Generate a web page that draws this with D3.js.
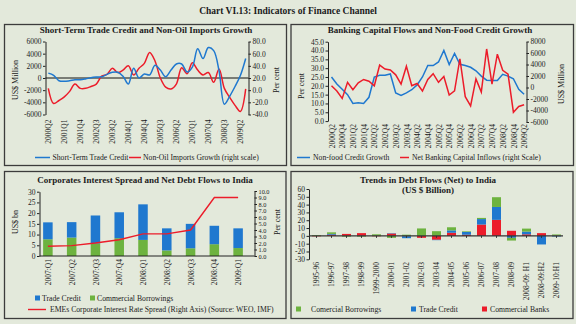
<!DOCTYPE html>
<html>
<head>
<meta charset="utf-8">
<script src="https://cdn.jsdelivr.net/npm/d3@7"></script>
<style>
  html, body { margin: 0; padding: 0; background: #e3e9db; }
  svg { display: block; }
  text { font-family: "Liberation Serif", "Times New Roman", serif; fill: #1b1b1b; }
</style>
</head>
<body>
<svg id="chart" width="576" height="324"></svg>
<script>
// ---------------- Data ----------------
// Top-left: short-term trade credit (US$ mn) and non-oil import growth (%)
const quartersA = ["2000Q2","2000Q3","2000Q4","2001Q1","2001Q2","2001Q3","2001Q4","2002Q1","2002Q2","2002Q3","2002Q4",
  "2003Q1","2003Q2","2003Q3","2003Q4","2004Q1","2004Q2","2004Q3","2004Q4","2005Q1","2005Q2","2005Q3","2005Q4",
  "2006Q1","2006Q2","2006Q3","2006Q4","2007Q1","2007Q2","2007Q3","2007Q4","2008Q1","2008Q2","2008Q3","2008Q4",
  "2009Q1","2009Q2","2009Q3"];
const shortTermTradeCredit = [800,450,-450,-550,-450,-300,-300,-150,50,150,200,600,950,950,300,-1000,1600,0,650,500,
  2100,1300,200,1300,2300,2300,1000,1800,4800,3200,5000,4500,1200,-4300,-3000,-1400,400,3200];
const nonOilImportGrowth = [3,-22,-17,-11,-2,10,3,3,6,10,23,26,36,29,33,40,25,36,44,62,48,20,5,2,10,37,27,45,33,25,
  29,13,35,3,-12,-25,-35,2];
const ticksA = ["2000Q2","2001Q1","2001Q4","2002Q3","2003Q2","2004Q1","2004Q4","2005Q3","2006Q2","2007Q1","2007Q4","2008Q3","2009Q2"];
const leftTicksA = [6000,4000,2000,0,-2000,-4000,-6000];
const rightTicksA = [80,60,40,20,0,-20,-40];

// Top-right: non-food credit growth (%) and net banking capital inflows (US$ mn)
const quartersB = quartersA.slice(0, 37);
const nonFoodCreditGrowth = [25,21,18,15,10,10.4,10,13.5,25,26,26,26.7,16,14.6,16,17.8,20.5,25,31.5,31.5,33.5,40,32,
  38.3,32.2,31.5,30.5,28.5,25.5,23.2,23,23,26.5,25.5,24,18,15.2];
const netBankingInflows = [300,-600,-1900,900,-400,800,1400,1100,300,3900,3200,3050,2200,600,3700,300,700,-600,1400,
  2400,900,1900,-1300,-600,5000,-1600,-3200,1500,-800,6700,600,5800,3000,2300,-4300,-3300,-3000];
const ticksB = ["2000Q2","2000Q4","2001Q2","2001Q4","2002Q2","2002Q4","2003Q2","2003Q4","2004Q2","2004Q4","2005Q2",
  "2005Q4","2006Q2","2006Q4","2007Q2","2007Q4","2008Q2","2008Q4","2009Q2"];
const leftTicksB = [45,40,35,30,25,20,15,10,5,0];
const rightTicksB = [8000,6000,4000,2000,0,-2000,-4000,-6000];

// Bottom-left: net debt flows (US$ bn) and EME corporate spread (%)
const quartersC = ["2007:Q1","2007:Q2","2007:Q3","2007:Q4","2008:Q1","2008:Q2","2008:Q3","2008:Q4","2009:Q1"];
const tradeCreditC = [7.9,7.2,13.1,12.1,16.6,10.3,11.4,8.6,9.2];
const commercialBorrowingsC = [7.8,8.6,5.8,8.3,7.5,2.6,3.6,5.5,3.7];
const corporateSpread = [1.5,1.6,2.0,2.5,3.4,3.4,4.0,9.0,9.0];
const leftTicksC = [30,25,20,15,10,5,0];
const rightTicksC = [10,9,8,7,6,5,4,3,2,1,0];

// Bottom-right: debt flows (net) to India, US$ bn
const yearsD = ["1995-96","1996-97","1997-98","1998-99","1999-2000","2000-01","2001-02","2002-03","2003-04","2004-05",
  "2005-06","2006-07","2007-08","2008-09","2008-09: H1","2008-09:H2","2009-10:H1"];
const commercialBanksD = [-0.6,1.5,2.5,3.5,-0.5,3.0,-0.5,-2.5,-5.0,4.0,1.5,14.5,20.5,6.5,2.0,3.5,0.3];
const tradeCreditD = [0.1,1.0,0,-0.2,0,0.5,-2.5,0,-0.5,3.0,3.5,7.0,16.5,-2.5,3.5,-11.0,-0.8];
const commercialBorrowingsD = [1.0,2.0,-1.0,-0.8,2.0,-2.5,1.5,9.5,6.0,4.0,0.8,1.5,12.5,-3.5,3.8,0,1.5];
const leftTicksD = [60,50,40,30,20,10,0,-10,-20,-30];

// ---------------- Styles ----------------
const BLUE = "#1f78cf", RED = "#ec1c2a", GREEN = "#6db33f", AXIS = "#222";
const TICK_FS = 7.5, TITLE_FS = 9, LEG_FS = 7.7;

const svg = d3.select("#chart");

svg.append("text").attr("x", 288).attr("y", 14).attr("text-anchor", "middle")
  .attr("font-size", 9.5).attr("font-weight", "bold").text("Chart VI.13: Indicators of Finance Channel");

function frame(x0, y0, x1, y1) {
  svg.append("rect").attr("x", x0).attr("y", y0).attr("width", x1 - x0).attr("height", y1 - y0)
    .attr("fill", "none").attr("stroke", "#3c3c3c").attr("stroke-width", 1.3);
}
function title(x, y, txt) {
  svg.append("text").attr("x", x).attr("y", y).attr("text-anchor", "middle")
    .attr("font-size", TITLE_FS).attr("font-weight", "bold").text(txt);
}
function vLabel(x, y, txt) {
  svg.append("text").attr("transform", `translate(${x},${y}) rotate(-90)`).attr("text-anchor", "middle")
    .attr("dy", "0.35em").attr("font-size", 8).text(txt);
}
function styleAxis(g, fs) {
  g.select(".domain").attr("stroke", AXIS).attr("stroke-width", 1);
  g.selectAll(".tick line").attr("stroke", AXIS);
  g.selectAll("text").attr("font-size", fs || TICK_FS).attr("font-family", "Liberation Serif, serif").attr("fill", "#1b1b1b");
}
function yAxis(axisFn, scale, ticks, fmt, x, fs) {
  const g = svg.append("g").attr("transform", `translate(${x},0)`)
    .call(axisFn(scale).tickValues(ticks).tickFormat(fmt).tickSize(2.5).tickSizeOuter(0).tickPadding(1.5));
  styleAxis(g, fs);
  return g;
}
function rotatedXAxis(scale, ticks, yTop) {
  const g = svg.append("g").attr("transform", `translate(0,${yTop})`)
    .call(d3.axisBottom(scale).tickValues(ticks).tickSize(0).tickPadding(0));
  g.select(".domain").remove();
  styleAxis(g);
  g.selectAll("text").attr("transform", "rotate(-90)").attr("text-anchor", "end")
    .attr("x", 0).attr("y", 0).attr("dx", 0).attr("dy", "0.35em");
  return g;
}
const plain = d => String(d);
const oneDec = d => d.toFixed(1);

// ---------------- Panel A ----------------
frame(4.5, 24.5, 286.5, 165.5);
title(146, 33, "Short-Term Trade Credit and Non-Oil Imports Growth");
{
  const x = d3.scalePoint().domain(quartersA).range([48.3, 245.7]);
  const yL = d3.scaleLinear().domain([-6000, 6000]).range([114.5, 41.5]);
  const yR = d3.scaleLinear().domain([-40, 80]).range([114.5, 41.5]);
  yAxis(d3.axisLeft, yL, leftTicksA, plain, 45.5);
  yAxis(d3.axisRight, yR, rightTicksA, oneDec, 248.5);
  svg.append("line").attr("x1", 45.5).attr("x2", 248.5).attr("y1", yL(0)).attr("y2", yL(0))
    .attr("stroke", "#111").attr("stroke-width", 1);
  rotatedXAxis(x, ticksA, 119.5);
  const lineL = d3.line().x((d, i) => x(quartersA[i])).y(d => yL(d)).curve(d3.curveCatmullRom);
  const lineR = d3.line().x((d, i) => x(quartersA[i])).y(d => yR(d)).curve(d3.curveCatmullRom);
  svg.append("path").attr("d", lineR(nonOilImportGrowth)).attr("fill", "none").attr("stroke", RED).attr("stroke-width", 1.5);
  svg.append("path").attr("d", lineL(shortTermTradeCredit)).attr("fill", "none").attr("stroke", BLUE).attr("stroke-width", 1.5);
  vLabel(15, 80, "US$ Million");
  vLabel(276, 80, "Per cent");
  // legend
  svg.append("line").attr("x1", 35).attr("x2", 50).attr("y1", 157.5).attr("y2", 157.5).attr("stroke", BLUE).attr("stroke-width", 1.5);
  svg.append("text").attr("x", 52.5).attr("y", 157.5).attr("dy", "0.35em").attr("font-size", LEG_FS).text("Short-Term Trade Credit");
  svg.append("line").attr("x1", 129).attr("x2", 141).attr("y1", 157.5).attr("y2", 157.5).attr("stroke", RED).attr("stroke-width", 1.5);
  svg.append("text").attr("x", 143).attr("y", 157.5).attr("dy", "0.35em").attr("font-size", LEG_FS).text("Non-Oil Imports Growth (right scale)");
}

// ---------------- Panel B ----------------
frame(291, 24.5, 573.5, 165.5);
title(430, 33, "Banking Capital Flows and Non-Food Credit Growth");
{
  const x = d3.scalePoint().domain(quartersB).range([331.5, 524.1]);
  const yL = d3.scaleLinear().domain([0, 45]).range([121.1, 41.7]);
  const yR = d3.scaleLinear().domain([-6000, 8000]).range([122, 41.5]);
  yAxis(d3.axisLeft, yL, leftTicksB, oneDec, 328);
  yAxis(d3.axisRight, yR, rightTicksB, plain, 526.5);
  rotatedXAxis(x, ticksB, 124);
  const lineL = d3.line().x((d, i) => x(quartersB[i])).y(d => yL(d));
  const lineR = d3.line().x((d, i) => x(quartersB[i])).y(d => yR(d));
  svg.append("path").attr("d", lineL(nonFoodCreditGrowth)).attr("fill", "none").attr("stroke", BLUE).attr("stroke-width", 1.5);
  svg.append("path").attr("d", lineR(netBankingInflows)).attr("fill", "none").attr("stroke", RED).attr("stroke-width", 1.5);
  vLabel(301, 86, "Per cent");
  vLabel(561, 84, "US$ Million");
  svg.append("line").attr("x1", 297).attr("x2", 310).attr("y1", 157.5).attr("y2", 157.5).attr("stroke", BLUE).attr("stroke-width", 1.5);
  svg.append("text").attr("x", 313).attr("y", 157.5).attr("dy", "0.35em").attr("font-size", LEG_FS).text("Non-food Credit Growth");
  svg.append("line").attr("x1", 400).attr("x2", 409).attr("y1", 157.5).attr("y2", 157.5).attr("stroke", RED).attr("stroke-width", 1.5);
  svg.append("text").attr("x", 412).attr("y", 157.5).attr("dy", "0.35em").attr("font-size", LEG_FS).text("Net Banking Capital Inflows (right Scale)");
}

// ---------------- Panel C ----------------
frame(4.5, 171.5, 286, 318.5);
title(145, 183, "Corporates Interest Spread and Net Debt Flows to India");
{
  const x = d3.scaleBand().domain(quartersC).range([36, 250]).paddingInner(0.6).paddingOuter(0.3);
  const yL = d3.scaleLinear().domain([0, 30]).range([256, 191.7]);
  const yR = d3.scaleLinear().domain([0, 10]).range([256, 191]);
  const rows = quartersC.map((q, i) => ({ q, cb: commercialBorrowingsC[i], tc: tradeCreditC[i] }));
  const stacked = d3.stack().keys(["cb", "tc"])(rows);
  const colors = { cb: GREEN, tc: BLUE };
  stacked.forEach(layer => {
    svg.append("g").selectAll("rect").data(layer).join("rect")
      .attr("x", d => x(d.data.q)).attr("width", x.bandwidth())
      .attr("y", d => yL(d[1])).attr("height", d => yL(d[0]) - yL(d[1]))
      .attr("fill", colors[layer.key]);
  });
  yAxis(d3.axisLeft, yL, leftTicksC, plain, 39.5);
  yAxis(d3.axisRight, yR, rightTicksC, oneDec, 254.5, 6.3);
  svg.append("line").attr("x1", 39.5).attr("x2", 254.5).attr("y1", 256).attr("y2", 256).attr("stroke", AXIS);
  const cx = q => x(q) + x.bandwidth() / 2;
  const line = d3.line().x((d, i) => cx(quartersC[i])).y(d => yR(d));
  svg.append("path").attr("d", line(corporateSpread)).attr("fill", "none").attr("stroke", RED).attr("stroke-width", 1.4);
  const gx = svg.append("g").attr("transform", "translate(0,259)")
    .call(d3.axisBottom(d3.scalePoint().domain(quartersC).range([cx(quartersC[0]), cx(quartersC[8])])).tickSize(0).tickPadding(0));
  gx.select(".domain").remove();
  styleAxis(gx);
  gx.selectAll("text").attr("transform", "rotate(-90)").attr("text-anchor", "end").attr("x", 0).attr("y", 0).attr("dy", "0.35em");
  vLabel(15, 222, "US$ bn");
  vLabel(277, 222, "Per cent");
  svg.append("rect").attr("x", 35).attr("y", 295.5).attr("width", 5).attr("height", 5).attr("fill", BLUE);
  svg.append("text").attr("x", 42).attr("y", 298).attr("dy", "0.35em").attr("font-size", LEG_FS).text("Trade Credit");
  svg.append("rect").attr("x", 90).attr("y", 295.5).attr("width", 5).attr("height", 5).attr("fill", GREEN);
  svg.append("text").attr("x", 97).attr("y", 298).attr("dy", "0.35em").attr("font-size", LEG_FS).text("Commercial Borrowings");
  svg.append("line").attr("x1", 28).attr("x2", 46).attr("y1", 309.5).attr("y2", 309.5).attr("stroke", RED).attr("stroke-width", 1.4);
  svg.append("text").attr("x", 50).attr("y", 309.5).attr("dy", "0.35em").attr("font-size", LEG_FS)
    .text("EMEs Corporate Interest Rate Spread (Right Axis) (Source: WEO, IMF)");
}

// ---------------- Panel D ----------------
frame(291, 171.5, 573, 318.5);
title(428, 183, "Trends in Debt Flows (Net) to India");
title(428, 193, "(US $ Billion)");
{
  const x = d3.scaleBand().domain(yearsD).range([309, 564]).paddingInner(0.4).paddingOuter(0.2);
  const y = d3.scaleLinear().domain([-30, 60]).range([259.3, 189]);
  const rows = yearsD.map((yr, i) => ({ yr, banks: commercialBanksD[i], tc: tradeCreditD[i], cb: commercialBorrowingsD[i] }));
  const stacked = d3.stack().keys(["banks", "tc", "cb"]).offset(d3.stackOffsetDiverging)(rows);
  const colors = { banks: RED, tc: BLUE, cb: GREEN };
  stacked.forEach(layer => {
    svg.append("g").selectAll("rect").data(layer).join("rect")
      .attr("x", d => x(d.data.yr)).attr("width", x.bandwidth())
      .attr("y", d => y(Math.max(d[0], d[1]))).attr("height", d => Math.abs(y(d[0]) - y(d[1])))
      .attr("fill", colors[layer.key]);
  });
  yAxis(d3.axisLeft, y, leftTicksD, plain, 309);
  svg.append("line").attr("x1", 309).attr("x2", 563).attr("y1", y(0)).attr("y2", y(0)).attr("stroke", "#333").attr("stroke-width", 1.2);
  svg.append("g").selectAll("line").data(yearsD).join("line")
    .attr("x1", d => x(d) + x.bandwidth() / 2).attr("x2", d => x(d) + x.bandwidth() / 2)
    .attr("y1", y(0)).attr("y2", y(0) + 2).attr("stroke", "#333");
  const gx = svg.append("g").attr("transform", "translate(0,262)")
    .call(d3.axisBottom(x).tickSize(0).tickPadding(0));
  gx.select(".domain").remove();
  styleAxis(gx);
  gx.selectAll("text").attr("transform", "rotate(-90)").attr("text-anchor", "end").attr("x", 0).attr("y", 0).attr("dy", "0.35em");
  svg.append("rect").attr("x", 296).attr("y", 306.5).attr("width", 5).attr("height", 5).attr("fill", GREEN);
  svg.append("text").attr("x", 311).attr("y", 309).attr("dy", "0.35em").attr("font-size", LEG_FS).text("Comercial Borrowings");
  svg.append("rect").attr("x", 411).attr("y", 306.5).attr("width", 5).attr("height", 5).attr("fill", BLUE);
  svg.append("text").attr("x", 419).attr("y", 309).attr("dy", "0.35em").attr("font-size", LEG_FS).text("Trade Credit");
  svg.append("rect").attr("x", 482).attr("y", 306.5).attr("width", 5).attr("height", 5).attr("fill", RED);
  svg.append("text").attr("x", 490).attr("y", 309).attr("dy", "0.35em").attr("font-size", LEG_FS).text("Commercial Banks");
}
</script>
</body>
</html>
